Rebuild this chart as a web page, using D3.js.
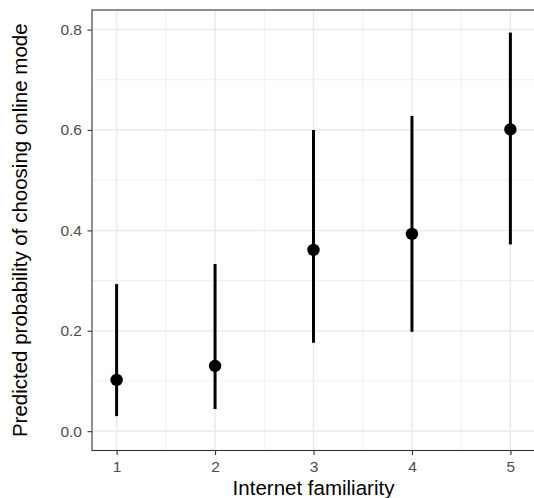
<!DOCTYPE html>
<html>
<head>
<meta charset="utf-8">
<script src="https://cdn.jsdelivr.net/npm/d3@7"></script>
<style>
  html, body { margin: 0; padding: 0; background: #fff; }
  svg { display: block; font-family: "Liberation Sans", Arial, sans-serif; }
</style>
</head>
<body>
<svg id="chart" width="534" height="498"></svg>
<script>
// Internet familiarity levels and predicted probabilities with intervals
const familiarity = [1, 2, 3, 4, 5];
const predicted   = [0.102, 0.130, 0.361, 0.393, 0.601];
const lowerBound  = [0.030, 0.044, 0.176, 0.198, 0.372];
const upperBound  = [0.293, 0.333, 0.600, 0.628, 0.794];
const yTicks = [0.0, 0.2, 0.4, 0.6, 0.8];
const yMinor = [0.1, 0.3, 0.5, 0.7];
const xMinor = [1.5, 2.5, 3.5, 4.5];

const svg = d3.select("#chart");
const panel = { left: 92, top: 10, right: 535, bottom: 450.5 };

const x = d3.scaleLinear().domain([0.75, 5.25]).range([panel.left, panel.right]);
const y = d3.scaleLinear().domain([-0.0385, 0.839]).range([panel.bottom, panel.top]);

// panel background and grid
const g = svg.append("g");
g.append("rect")
  .attr("x", panel.left).attr("y", panel.top)
  .attr("width", panel.right - panel.left).attr("height", panel.bottom - panel.top)
  .attr("fill", "#fff");

g.selectAll(".yminor").data(yMinor).join("line")
  .attr("x1", panel.left).attr("x2", panel.right)
  .attr("y1", d => y(d)).attr("y2", d => y(d))
  .attr("stroke", "#ebebeb").attr("stroke-width", 0.8);
g.selectAll(".xminor").data(xMinor).join("line")
  .attr("y1", panel.top).attr("y2", panel.bottom)
  .attr("x1", d => x(d)).attr("x2", d => x(d))
  .attr("stroke", "#ebebeb").attr("stroke-width", 0.8);
g.selectAll(".ymajor").data(yTicks).join("line")
  .attr("x1", panel.left).attr("x2", panel.right)
  .attr("y1", d => y(d)).attr("y2", d => y(d))
  .attr("stroke", "#ebebeb").attr("stroke-width", 1.5);
g.selectAll(".xmajor").data(familiarity).join("line")
  .attr("y1", panel.top).attr("y2", panel.bottom)
  .attr("x1", d => x(d)).attr("x2", d => x(d))
  .attr("stroke", "#ebebeb").attr("stroke-width", 1.5);

// error bars and points
const rows = familiarity.map((f, i) => ({ f, p: predicted[i], lo: lowerBound[i], hi: upperBound[i] }));
g.selectAll(".bar").data(rows).join("line")
  .attr("x1", d => x(d.f)).attr("x2", d => x(d.f))
  .attr("y1", d => y(d.lo)).attr("y2", d => y(d.hi))
  .attr("stroke", "#000").attr("stroke-width", 3);
g.selectAll(".pt").data(rows).join("circle")
  .attr("cx", d => x(d.f)).attr("cy", d => y(d.p))
  .attr("r", 6.2).attr("fill", "#000");

// panel border
g.append("rect")
  .attr("x", panel.left).attr("y", panel.top)
  .attr("width", panel.right - panel.left).attr("height", panel.bottom - panel.top)
  .attr("fill", "none").attr("stroke", "#333").attr("stroke-width", 1.1);

// axes
const yAxis = svg.append("g")
  .attr("transform", `translate(${panel.left},0)`)
  .call(d3.axisLeft(y).tickValues(yTicks).tickFormat(d3.format(".1f")).tickSize(4.5).tickPadding(5.5));
const xAxis = svg.append("g")
  .attr("transform", `translate(0,${panel.bottom})`)
  .call(d3.axisBottom(x).tickValues(familiarity).tickFormat(d3.format("d")).tickSize(4.5).tickPadding(6));
[yAxis, xAxis].forEach(a => {
  a.select(".domain").remove();
  a.selectAll(".tick line").attr("stroke", "#333").attr("stroke-width", 1.1);
  a.selectAll(".tick text").attr("fill", "#4d4d4d").attr("font-size", 15.5)
    .attr("font-family", "Liberation Sans, Arial, sans-serif");
});

// axis titles
svg.append("text")
  .attr("x", (panel.left + panel.right) / 2).attr("y", 494.5)
  .attr("text-anchor", "middle").attr("font-size", 20.5).attr("fill", "#000")
  .text("Internet familiarity");
svg.append("text")
  .attr("transform", `translate(27,${(panel.top + panel.bottom) / 2}) rotate(-90)`)
  .attr("text-anchor", "middle").attr("font-size", 20.5).attr("fill", "#000")
  .text("Predicted probability of choosing online mode");
</script>
</body>
</html>
